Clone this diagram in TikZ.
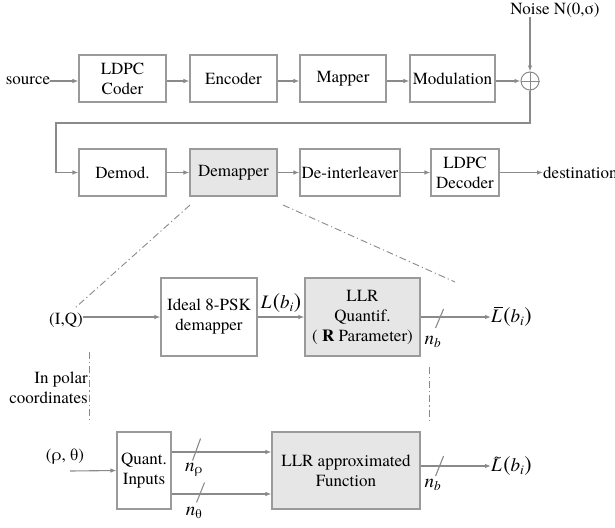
\documentclass[tikz,border=0pt]{standalone}
\usepackage{fontspec}
\setmainfont{texgyretermes}[Extension=.otf, UprightFont=*-regular, BoldFont=*-bold, ItalicFont=*-italic, BoldItalicFont=*-bolditalic]
\usetikzlibrary{arrows.meta,calc}
\definecolor{lgray}{HTML}{8A8A8A}
\definecolor{bgray}{HTML}{9A9A9A}
\definecolor{fgray}{HTML}{E6E6E6}
\tikzset{
  blk/.style={draw=bgray,line width=1.1pt,fill=white,inner sep=0pt,align=center,font=\fontsize{17}{20}\selectfont},
  gblk/.style={blk,fill=fgray},
  arr/.style={draw=lgray,line width=1.1pt,-{Latex[length=6pt,width=4.5pt]}},
  ln/.style={draw=lgray,line width=1.1pt},
  dd/.style={draw=lgray,line width=0.9pt,dash pattern=on 7pt off 3pt on 1.2pt off 3pt},
  lbl/.style={inner sep=0pt,font=\fontsize{17}{20}\selectfont,align=center},
  mlbl/.style={inner sep=0pt,font=\fontsize{19}{22}\selectfont}
}
\newcommand{\Lbi}[1]{#1\kern1.5pt{\fontsize{22}{22}\selectfont(}\textit{b}\textsubscript{\textit{i}}{\fontsize{22}{22}\selectfont)}}
\newcommand{\LBar}{\rlap{\raisebox{14.5pt}{\kern2.5pt\rule{9pt}{0.8pt}}}\textit{L}}
\newcommand{\LTil}{\rlap{\raisebox{10pt}{\kern3pt\fontsize{14}{14}\selectfont\char"7E}}\textit{L}}
\begin{document}
\begin{tikzpicture}[x=1pt,y=-1pt]
\useasboundingbox (0,0) rectangle (615,527);
% row 1
\node[lbl] (src) at (28,81) {source};
\node[blk,minimum width=87pt,minimum height=47pt] (coder) at (122.5,78.5) {LDPC\\Coder};
\node[blk,minimum width=87pt,minimum height=47pt] (enc) at (233.5,78.5) {Encoder};
\node[blk,minimum width=86pt,minimum height=47pt] (map) at (343,78.5) {Mapper};
\node[blk,minimum width=85pt,minimum height=47pt] (mod) at (452.5,78.5) {Modulation};
\node[circle,draw=lgray,line width=1pt,minimum size=18pt,inner sep=0pt] (plus) at (530,81) {};
\draw[lgray,line width=1pt] (plus.north) -- (plus.south) (plus.west) -- (plus.east);
\node[lbl] (noise) at (555,10) {Noise N(0,σ)};
\draw[arr] (src.east) -- (src.east -| coder.west);
\draw[arr] (coder.east |- plus) -- (enc.west |- plus);
\draw[arr] (enc.east |- plus) -- (map.west |- plus);
\draw[arr] (map.east |- plus) -- (mod.west |- plus);
\draw[arr] (mod.east |- plus) -- (plus.west);
\draw[arr] (noise.south -| plus) -- (plus.north);
% row 2
\node[blk,minimum width=87pt,minimum height=47pt] (demod) at (122.5,172.5) {Demod.};
\node[gblk,minimum width=87pt,minimum height=47pt] (demap) at (233.5,172.5) {Demapper};
\node[blk,minimum width=100pt,minimum height=47pt] (deint) at (350,172.5) {De-interleaver};
\node[blk,minimum width=68pt,minimum height=47pt] (dec) at (465,172.5) {LDPC\\Decoder};
\node[lbl,anchor=west] (dst) at (543,172.5) {destination};
\coordinate (fbl) at (56,123);
\draw[arr] (plus.south) |- (fbl) |- (demod.west);
\draw[arr] (demod.east) -- (demap.west);
\draw[arr] (demap.east) -- (deint.west);
\draw[arr] (deint.east) -- (dec.west);
\draw[arr] (dec.east) -- (dst.west);
% zoom lines
\coordinate (zl1) at (190,205);
\coordinate (zl2) at (75,308);
\coordinate (zr1) at (283,205);
\coordinate (zr2) at (455,282);
\draw[dd] (zl1) -- (zl2);
\draw[dd] (zr1) -- (zr2);
% middle row
\node[lbl] (iq) at (66,320) {(I,Q)};
\node[blk,minimum width=96pt,minimum height=78pt] (ideal) at (209,317) {Ideal 8-PSK\\demapper};
\node[gblk,minimum width=115pt,minimum height=78pt] (llrq) at (362.5,317) {LLR\\Quantif.\\( \textbf{R} Parameter)};
\node[mlbl,anchor=west] (lbar) at (491,317) {\Lbi{\LBar}};
\node[mlbl] (lb) at (281,303) {\Lbi{\textit{L}}};
\draw[arr] (iq.east |- ideal.west) -- (ideal.west);
\draw[arr] (ideal.east) -- (llrq.west);
\draw[arr] (llrq.east) -- (lbar.west);
\draw[ln] ($(llrq.east)+(15,11)$) -- ($(llrq.east)+(23,-8)$);
\node[mlbl] (nb1) at (433,342) {\textit{n}\textsubscript{\textit{b}}};
% vertical dashed
\coordinate (vl1) at (89,352);
\coordinate (vl2) at (89,423);
\coordinate (vr1) at (429,367);
\coordinate (vr2) at (429,420);
\draw[dd] (vl1) -- (vl2);
\draw[dd] (vr1) -- (vr2);
\node[lbl,align=right,anchor=east] (polar) at (88,388) {In polar\\coordinates};
% bottom row
\node[lbl] (rt) at (65,457) {(ρ, θ)};
\node[blk,minimum width=54pt,minimum height=77pt] (quant) at (144,470.5) {Quant.\\Inputs};
\node[gblk,minimum width=148pt,minimum height=77pt] (llra) at (346,470.5) {LLR approximated\\Function};
\node[mlbl,anchor=west] (ltil) at (491,466) {\Lbi{\LTil}};
\coordinate (qin) at (70,471);
\draw[arr] (qin) -- (quant.west);
\draw[arr] ([yshift=18.5pt]quant.east) -- ([yshift=18.5pt]llra.west);
\draw[arr] ([yshift=-23.5pt]quant.east) -- ([yshift=-23.5pt]llra.west);
\draw[ln] ([xshift=21pt,yshift=10pt]quant.east) -- ([xshift=29pt,yshift=32pt]quant.east);
\draw[ln] ([xshift=25pt,yshift=-32pt]quant.east) -- ([xshift=33pt,yshift=-12pt]quant.east);
\node[mlbl] (nr) at (194,470) {\textit{n}\textsubscript{ρ}};
\node[mlbl] (nt) at (194,513) {\textit{n}\textsubscript{θ}};
\draw[arr] (llra.east |- ltil.west) -- (ltil.west);
\draw[ln] ($(llra.east |- ltil.west)+(15,10)$) -- ($(llra.east |- ltil.west)+(23,-10)$);
\node[mlbl] (nb2) at (433,485) {\textit{n}\textsubscript{\textit{b}}};
\end{tikzpicture}
\end{document}
